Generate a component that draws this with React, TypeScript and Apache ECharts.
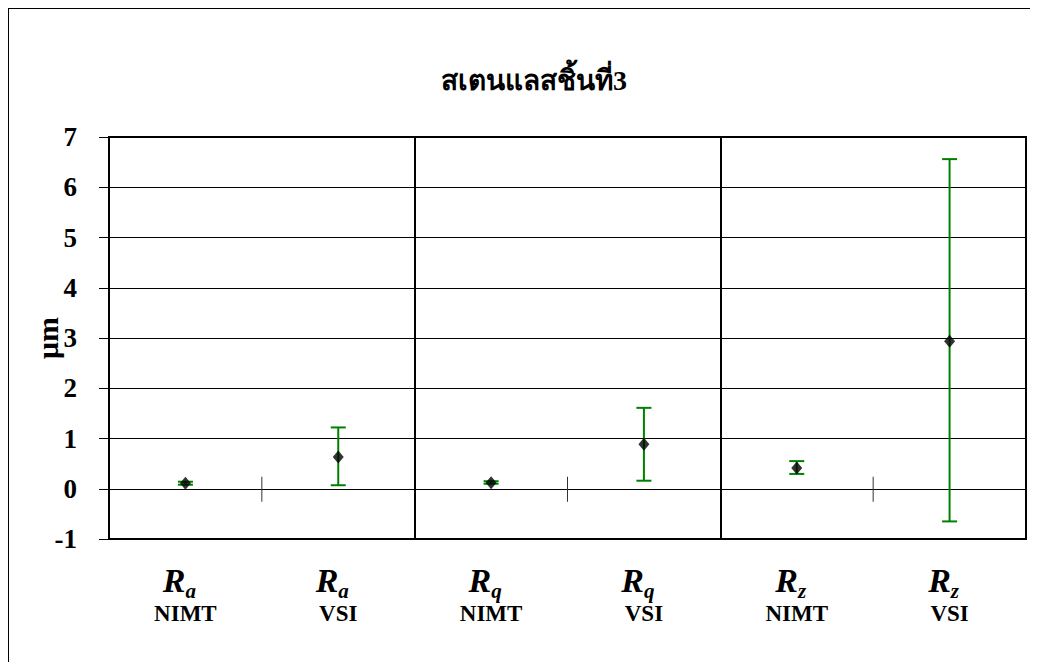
import React, { useEffect, useRef } from "react";
import * as echarts from "echarts";

const titleText = "สเตนแลสชิ้นที่3";
const yAxisName = "μm";
const params = ["a", "a", "q", "q", "z", "z"];
const instruments = ["NIMT", "VSI", "NIMT", "VSI", "NIMT", "VSI"];
const categories = params.map((p, i) => `R${p} ${instruments[i]}`);
const means = [0.11, 0.63, 0.12, 0.885, 0.415, 2.935];
const lows = [0.08, 0.07, 0.1, 0.16, 0.295, -0.65];
const highs = [0.14, 1.22, 0.15, 1.61, 0.55, 6.56];
const yMin = -1;
const yMax = 7;
const yStep = 1;
const groupDividers = [2, 4];
const zeroTicks = [1, 3, 5];

const serif = "Liberation Serif, DejaVu Serif, serif";

export default function App() {
  const ref = useRef<HTMLDivElement>(null);
  useEffect(() => {
    if (!ref.current) return;
    const chart = echarts.init(ref.current, null, { renderer: "svg" });
    chart.setOption({
      animation: false,
      backgroundColor: "#fff",
      title: {
        text: titleText,
        left: 520,
        top: 52,
        textAlign: "center",
        textStyle: { fontFamily: serif, fontSize: 28, fontWeight: "bold", color: "#000" },
      },
      grid: {
        left: 100,
        top: 128,
        width: 917,
        height: 402,
        show: true,
        borderColor: "#000",
        borderWidth: 2,
        containLabel: false,
      },
      xAxis: {
        type: "category",
        data: categories,
        boundaryGap: true,
        axisLine: { onZero: false, lineStyle: { color: "#000", width: 2 } },
        axisTick: { show: false },
        splitLine: {
          show: true,
          interval: (i: number) => groupDividers.includes(i),
          lineStyle: { color: "#000", width: 2 },
        },
        axisLabel: {
          margin: 24,
          interval: 0,
          formatter: (_v: string, i: number) =>
            `{r|R}{s|${params[i]}}{sp| }\n{n|${instruments[i]}}`,
          rich: {
            r: {
              fontFamily: serif,
              fontSize: 34,
              fontWeight: "bold",
              fontStyle: "italic",
              color: "#000",
              lineHeight: 34,
              verticalAlign: "top",
            },
            s: {
              fontFamily: serif,
              fontSize: 21,
              fontWeight: "bold",
              fontStyle: "italic",
              color: "#000",
              lineHeight: 20,
              verticalAlign: "bottom",
            },
            sp: {
              fontSize: 2,
              lineHeight: 38,
              width: 12,
            },
            n: {
              fontFamily: serif,
              fontSize: 23,
              fontWeight: "bold",
              color: "#000",
              lineHeight: 24,
            },
          },
        },
      },
      yAxis: {
        type: "value",
        min: yMin,
        max: yMax,
        interval: yStep,
        name: yAxisName,
        nameLocation: "middle",
        nameGap: 47,
        nameMoveOverlap: false,
        nameRotate: 90,
        nameTextStyle: { fontFamily: serif, fontSize: 30, fontWeight: "bold", color: "#000" },
        axisLine: { show: true, lineStyle: { color: "#000", width: 2 } },
        axisTick: { show: true, length: 10, lineStyle: { color: "#000", width: 1 } },
        splitLine: { show: true, lineStyle: { color: "#000", width: 1 } },
        axisLabel: { fontFamily: serif, fontSize: 27, fontWeight: "bold", color: "#000", margin: 32 },
      },
      series: [
        {
          type: "custom",
          name: "error",
          data: means.map((_m, i) => [i, lows[i], highs[i]]),
          encode: { x: 0, y: [1, 2] },
          renderItem: (_p: any, api: any) => {
            const i = api.value(0);
            const lo = api.coord([i, api.value(1)]);
            const hi = api.coord([i, api.value(2)]);
            const cap = 7.5;
            const style = { stroke: "#008000", lineWidth: 2 };
            return {
              type: "group",
              children: [
                { type: "line", shape: { x1: lo[0], y1: lo[1], x2: hi[0], y2: hi[1] }, style },
                { type: "line", shape: { x1: lo[0] - cap, y1: lo[1], x2: lo[0] + cap, y2: lo[1] }, style },
                { type: "line", shape: { x1: hi[0] - cap, y1: hi[1], x2: hi[0] + cap, y2: hi[1] }, style },
              ],
            };
          },
          z: 3,
        },
        {
          type: "scatter",
          name: "mean",
          data: means.map((m, i) => [i, m]),
          symbol: "diamond",
          symbolSize: [11, 13],
          itemStyle: { color: "#000" },
          z: 4,
        },
        {
          type: "custom",
          name: "zeroTicks",
          data: zeroTicks.map((i) => [i, 0]),
          encode: { x: 0, y: 1 },
          renderItem: (_p: any, api: any) => {
            const p = api.coord([api.value(0), api.value(1)]);
            const bw = api.size([1, 0])[0];
            const x = p[0] - bw / 2;
            return {
              type: "line",
              shape: { x1: x, y1: p[1] - 12, x2: x, y2: p[1] + 13 },
              style: { stroke: "#333", lineWidth: 1 },
            };
          },
          z: 2,
        },
      ],
    });
    return () => chart.dispose();
  }, []);
  return (
    <div
      style={{
        width: 1022,
        height: 654,
        borderLeft: "1px solid #000",
        borderTop: "1px solid #000",
        boxSizing: "border-box",
        overflow: "hidden",
      }}
    >
      <div ref={ref} style={{ width: 1021, height: 653 }} />
    </div>
  );
}
